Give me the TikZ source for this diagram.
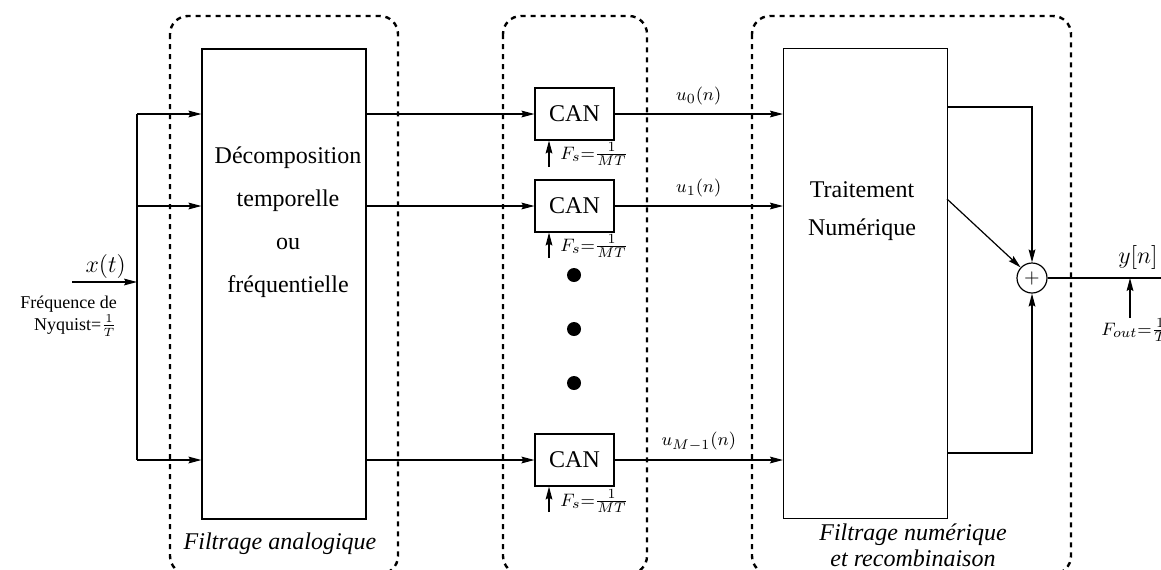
\documentclass[tikz,border=0pt]{standalone}
\usepackage{amsmath}
\usepackage{fontspec}
\setmainfont{Liberation Serif}
\newfontfamily\serif{Liberation Serif}
\usetikzlibrary{arrows.meta}
\newcommand{\sigfont}{\serif\fontsize{9.5}{11}\selectfont}

\begin{document}
\begin{tikzpicture}[x=0.5pt,y=-0.5pt,->,>={Stealth[length=6.5pt,width=3.4pt,inset=1pt]},semithick,
    font=\serif\fontsize{12}{14}\selectfont,
    bloc/.style={-,draw,minimum width=82pt,minimum height=235pt,inner sep=0pt},
    can/.style={-,draw,minimum width=39.5pt,minimum height=26pt,inner sep=0pt},
    groupe/.style={-,line width=1.2pt,dash pattern=on 2.6pt off 2.4pt,rounded corners=9pt},
    point/.style={circle,fill=black,inner sep=0pt,minimum size=7pt},
    ulab/.style={midway,above=1pt,font=\sigfont}]
  \useasboundingbox (0,0) rectangle (1161,569);
  \clip (0,0) rectangle (1161,569);

  % zones en pointilles
  \draw[groupe] (170,16) rectangle (398,574);
  \draw[groupe] (503,16) rectangle (647,574);
  \draw[groupe] (752,16) rectangle (1071,574);

  \node[bloc] (dec)   at (284,284)     {};
  \node[bloc] (trait) at (865.5,283.5) {};
  \node[align=center,font=\serif\fontsize{12}{21.5}\selectfont] (dectxt) at (288,222)
       {Décomposition\\temporelle\\ou\\fréquentielle};
  \node[align=center,font=\serif\fontsize{12}{19}\selectfont] (traittxt) at (862,211)
       {Traitement\\Numérique};

  \node[can] (can0) at (574.5,114) {CAN};
  \node[can] (can1) at (574.5,206) {CAN};
  \node[can] (can2) at (574.5,460) {CAN};
  \node[point] (p1) at (574,275) {};
  \node[point] (p2) at (574,329) {};
  \node[point] (p3) at (574,383) {};

  \node[circle,draw,inner sep=0pt,minimum size=15pt,font=\fontsize{10}{12}\selectfont] (sum) at (1032,278) {$+$};

  \coordinate (xin)    at (72,282);
  \coordinate (fork)   at (137,282);
  \coordinate (fs0)    at (549,167);
  \coordinate (fs1)    at (549,258);
  \coordinate (fs2)    at (549,512);
  \coordinate (fbtop)  at (947,107);
  \coordinate (fbdiag) at (947,199);
  \coordinate (fbbot)  at (947,453);
  \coordinate (yout)   at (1170,278);
  \coordinate (fout)   at (1130,318);

  % textes
  \node[anchor=base east] (xlab) at (133,272) {$x(t)$};
  \node[align=right,anchor=east,font=\serif\fontsize{9}{11}\selectfont] (nyq) at (124,316)
       {Fréquence de\\Nyquist=$\frac{1}{T}$};
  \node[anchor=west,font=\sigfont] (fslab0) at (553,154) {$F_s{=}\frac{1}{MT}$};
  \node[anchor=west,font=\sigfont] (fslab1) at (553,246) {$F_s{=}\frac{1}{MT}$};
  \node[anchor=west,font=\sigfont] (fslab2) at (553,501) {$F_s{=}\frac{1}{MT}$};
  \node[anchor=base west,font=\fontsize{13}{16}\selectfont] (ylab) at (1111,263) {$y[n]$};
  \node[anchor=west,font=\sigfont] (foutlab) at (1094,330) {$F_{out}{=}\frac{1}{T}$};
  \node[font=\serif\fontsize{12}{14}\selectfont\itshape] (lana) at (280,544) {Filtrage analogique};
  \node[align=center,font=\serif\fontsize{12}{13}\selectfont\itshape] (lnum) at (913,545)
       {Filtrage numérique\\et recombinaison};

  % connexions
  \draw (xin) -- (fork);
  \draw[-] (fork |- can0) -- (fork |- can2);
  \draw (fork |- can0) -- (dec.west |- can0);
  \draw (fork |- can1) -- (dec.west |- can1);
  \draw (fork |- can2) -- (dec.west |- can2);
  \draw (dec.east |- can0) -- (can0.west);
  \draw (dec.east |- can1) -- (can1.west);
  \draw (dec.east |- can2) -- (can2.west);
  \draw (can0.east) -- (trait.west |- can0) node[ulab] {$u_0(n)$};
  \draw (can1.east) -- (trait.west |- can1) node[ulab] {$u_1(n)$};
  \draw (can2.east) -- (trait.west |- can2) node[ulab] {$u_{M-1}(n)$};
  \draw (fs0) -- (fs0 |- can0.south);
  \draw (fs1) -- (fs1 |- can1.south);
  \draw (fs2) -- (fs2 |- can2.south);
  \draw (fbtop) -| (sum.north);
  \draw (fbdiag) -- (sum);
  \draw (fbbot) -| (sum.south);
  \draw[-] (sum.east) -- (yout);
  \draw (fout) -- (fout |- sum);
\end{tikzpicture}
\end{document}
